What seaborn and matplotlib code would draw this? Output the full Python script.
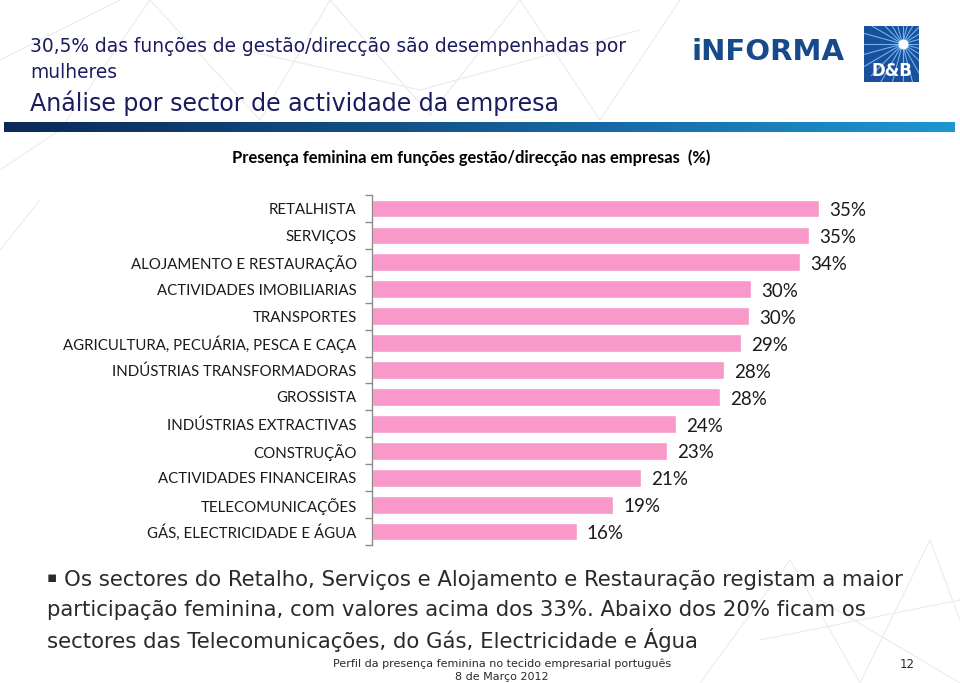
import matplotlib
matplotlib.use("Agg")
import matplotlib.pyplot as plt
import seaborn as sns
import numpy as np
import pandas as pd
from matplotlib.patches import Rectangle
from matplotlib.colors import LinearSegmentedColormap

sectors = [
    "RETALHISTA", "SERVIÇOS", "ALOJAMENTO E RESTAURAÇÃO", "ACTIVIDADES IMOBILIARIAS",
    "TRANSPORTES", "AGRICULTURA, PECUÁRIA, PESCA E CAÇA", "INDÚSTRIAS TRANSFORMADORAS",
    "GROSSISTA", "INDÚSTRIAS EXTRACTIVAS", "CONSTRUÇÃO", "ACTIVIDADES FINANCEIRAS",
    "TELECOMUNICAÇÕES", "GÁS, ELECTRICIDADE E ÁGUA",
]
values = [35.4, 34.6, 33.9, 30.0, 29.9, 29.2, 27.9, 27.6, 24.1, 23.4, 21.3, 19.1, 16.2]

header1 = "30,5% das funções de gestão/direcção são desempenhadas por"
header2 = "mulheres"
title = "Análise por sector de actividade da empresa"
chart_title = "Presença feminina em funções gestão/direcção nas empresas  (%)"
body = [
    "Os sectores do Retalho, Serviços e Alojamento e Restauração registam a maior",
    "participação feminina, com valores acima dos 33%. Abaixo dos 20% ficam os",
    "sectores das Telecomunicações, do Gás, Electricidade e Água",
]
footer1 = "Perfil da presença feminina no tecido empresarial português"
footer2 = "8 de Março 2012"
page = "12"

sns.set_theme(style="white")
plt.rcParams["font.family"] = ["Lato", "DejaVu Sans"]

W, H = 960, 683
fig = plt.figure(figsize=(9.6, 6.83), dpi=100)

def fx(x):
    return x / W

def fy(y):
    return 1 - y / H

# faint background network decoration
bg = fig.add_axes([0, 0, 1, 1], zorder=-5)
bg.set_xlim(0, W); bg.set_ylim(H, 0); bg.set_axis_off()
net_top = [((0, 60), (120, 0)), ((60, 130), (150, 0)), ((150, 0), (260, 120)), ((260, 120), (330, 0)),
           ((330, 0), (430, 115)), ((430, 115), (520, 0)), ((520, 0), (600, 120)), ((600, 120), (680, 0)),
           ((200, 40), (420, 90)), ((420, 90), (640, 30)), ((0, 170), (60, 130)), ((0, 250), (40, 200))]
net_bot = [((700, 683), (790, 560)), ((790, 560), (860, 683)), ((860, 683), (930, 540)),
           ((930, 540), (960, 620)), ((760, 640), (960, 600)), ((820, 600), (960, 683))]
for (a, b) in net_top + net_bot:
    bg.plot([a[0], b[0]], [a[1], b[1]], color="#ebebeb", lw=0.8)

navy = "#1b1b5e"
fig.text(fx(30), fy(46), header1, fontsize=13.4, color=navy, va="center", ha="left",
         family="DejaVu Sans")
fig.text(fx(30), fy(73), header2, fontsize=13.4, color=navy, va="center", ha="left",
         family="DejaVu Sans")
fig.text(fx(30), fy(103), title, fontsize=17.1, color=navy, va="center", ha="left",
         family="DejaVu Sans")

# gradient band
gax = fig.add_axes([fx(4), fy(132), fx(951), (132 - 122) / H])
grad = np.linspace(0, 1, 256).reshape(1, -1)
cmap = LinearSegmentedColormap.from_list("band", ["#0b2a57", "#145a93", "#1e96d3"])
gax.imshow(grad, aspect="auto", cmap=cmap)
gax.set_axis_off()

# logo
fig.text(fx(692), fy(52), "iNFORMA", fontsize=21, fontweight="bold", color="#174a8a",
         va="center", ha="left", family="DejaVu Sans")
lax = fig.add_axes([fx(864), fy(82), fx(55), 56 / H])
lax.add_patch(Rectangle((0, 0), 1, 1, color="#1a4f9c"))
for ang in np.linspace(0, 2 * np.pi, 24, endpoint=False):
    lax.plot([0.7, 0.7 + 0.8 * np.cos(ang)], [0.68, 0.68 + 0.8 * np.sin(ang)],
             color="#6fb4ec", lw=0.8)
lax.scatter([0.7], [0.68], s=40, color="white", zorder=3)
lax.text(0.5, 0.2, "D&B", color="white", fontsize=12, fontweight="bold", ha="center",
         va="center", family="DejaVu Sans")
lax.set_xlim(0, 1); lax.set_ylim(0, 1)
lax.set_axis_off()

fig.text(fx(471), fy(158), chart_title, fontsize=11.9, fontweight="bold", color="black",
         va="center", ha="center")

# bar chart
ax = fig.add_axes([fx(372), fy(545), fx(505), (545 - 195) / H])
ax.patch.set_alpha(0)
df = pd.DataFrame({"sector": sectors, "value": values})
sns.barplot(data=df, x="value", y="sector", orient="h", color="#F899C9", width=0.66,
            saturation=1, ax=ax)
ax.set_xlim(0, 40)
ax.set_ylim(len(sectors) - 0.5, -0.5)
ax.set_xlabel(""); ax.set_ylabel("")
ax.set_xticks([])
for s in ["top", "right", "bottom"]:
    ax.spines[s].set_visible(False)
ax.spines["left"].set_color("#8c8c8c")
ax.spines["left"].set_linewidth(1.0)
ax.tick_params(axis="y", which="major", length=0, pad=11, labelsize=10.8, labelcolor="#1a1a1a")
ax.set_yticks(np.arange(-0.5, len(sectors) + 0.5, 1), minor=True)
ax.tick_params(axis="y", which="minor", length=5, width=1, color="#8c8c8c", left=True, direction="out")
for i, v in enumerate(values):
    ax.text(v + 0.8, i + 0.08, f"{v:.0f}%", va="center", ha="left", fontsize=13.5, color="#1a1a1a")

# body
y0 = 580
tc = "#2a2a2a"
fig.text(fx(47), fy(y0 - 2), "▪", fontsize=11, color=tc, va="center", ha="left",
         family="DejaVu Sans")
fig.text(fx(64), fy(y0), body[0], fontsize=15.3, color=tc, va="center", ha="left",
         family="DejaVu Sans")
fig.text(fx(47), fy(y0 + 30), body[1], fontsize=15.3, color=tc, va="center", ha="left",
         family="DejaVu Sans")
fig.text(fx(47), fy(y0 + 60), body[2], fontsize=15.3, color=tc, va="center", ha="left",
         family="DejaVu Sans")

fig.text(fx(502), fy(664), footer1, fontsize=8.0, color=tc, va="center", ha="center",
         family="DejaVu Sans")
fig.text(fx(502), fy(677), footer2, fontsize=8.0, color=tc, va="center", ha="center",
         family="DejaVu Sans")
fig.text(fx(915), fy(665), page, fontsize=8.5, color=tc, va="center", ha="right",
         family="DejaVu Sans")

fig.savefig("out.png", dpi=100)
